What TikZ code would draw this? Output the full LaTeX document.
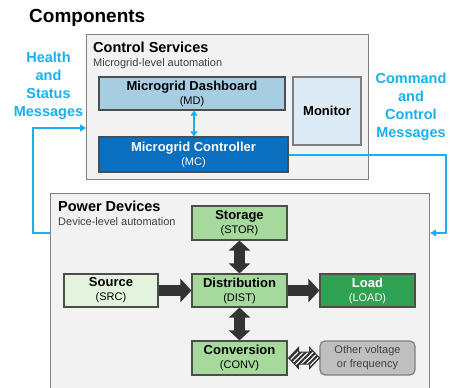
\documentclass[tikz,border=0pt]{standalone}
\usepackage{fontspec}
\setmainfont{Liberation Sans}
\usepackage{tikz}
\usetikzlibrary{arrows.meta,positioning,calc,patterns.meta}
\definecolor{cText}{HTML}{262626}
\definecolor{cSub}{HTML}{404040}
\definecolor{cMsg}{HTML}{18B0EE}
\definecolor{cPanel}{HTML}{F2F2F2}
\definecolor{cPanelEdge}{HTML}{7F7F7F}
\definecolor{cEdge}{HTML}{4D4D4D}
\definecolor{cDash}{HTML}{A7CDE3}
\definecolor{cCtrl}{HTML}{0A6FBF}
\definecolor{cMon}{HTML}{DCEBF6}
\definecolor{cDev}{HTML}{A6DA9C}
\definecolor{cSrc}{HTML}{E3F3DD}
\definecolor{cLoad}{HTML}{2EA152}
\definecolor{cOther}{HTML}{BFBFBF}
\definecolor{cFlow}{HTML}{333333}
\tikzset{
  panel/.style={draw=cPanelEdge, line width=1.2pt, fill=cPanel, anchor=north west, inner sep=0pt},
  ttl/.style={anchor=base west, inner sep=0pt, font=\fontsize{19}{22}\selectfont\bfseries, text=black},
  hdr/.style={anchor=base west, inner sep=0pt, font=\fontsize{14.5}{17}\selectfont\bfseries, text=black},
  sub/.style={anchor=base west, inner sep=0pt, font=\fontsize{11}{13}\selectfont, text=cSub},
  msgtxt/.style={anchor=north, inner sep=0pt, align=center, text=cMsg,
                 font=\fontsize{14.5}{18}\selectfont\bfseries},
  blk/.style={draw=cEdge, line width=1.2pt, inner sep=0pt, align=center, text=black,
              minimum width=95pt, minimum height=34pt, font=\fontsize{13}{14}\selectfont\bfseries},
  dashblk/.style={blk, fill=cDash},
  ctrlblk/.style={blk, fill=cCtrl, text=white},
  monblk/.style={blk, fill=cMon, draw=cPanelEdge},
  devblk/.style={blk, fill=cDev},
  srcblk/.style={blk, fill=cSrc},
  loadblk/.style={blk, fill=cLoad, text=white},
  otherblk/.style={blk, fill=cOther, draw=cPanelEdge, rounded corners=5pt,
                   font=\fontsize{11}{14}\selectfont, text=cSub},
  msg/.style={cMsg, line width=2pt, -{Triangle[length=6pt,width=7pt]}},
  msgdbl/.style={cMsg, line width=2pt, {Triangle[length=5pt,width=7pt]}-{Triangle[length=5pt,width=7pt]}},
  fatarr/.style={cFlow, line width=11pt, -{Triangle[length=11pt,width=23pt]}},
  fatdbl/.style={cFlow, line width=11pt, {Triangle[length=10pt,width=21pt]}-{Triangle[length=10pt,width=21pt]}},
  hatch/.style={draw=cFlow, line width=1pt, line join=miter, fill=white,
                postaction={pattern={Lines[angle=45,distance=3.6pt,line width=2.2pt]}, pattern color=cFlow}}
}
\newcommand{\abbr}[1]{{\fontsize{11}{14}\selectfont\mdseries(#1)}}

\begin{document}
\begin{tikzpicture}[x=1pt, y=-1pt]
\clip (0,0) rectangle (450,388);
\node[ttl] (comp) at (29,23) {Components};
% control layer
\node[panel, minimum width=282pt, minimum height=145pt] (ctrl) at (86,34) {};
\node[hdr] (ctrlttl) at (93,52) {Control Services};
\node[sub] (ctrlsub) at (93,66) {Microgrid-level automation};
\node[dashblk, minimum width=186pt, minimum height=33pt] (md) at (192,93.5)
  {Microgrid Dashboard\\\abbr{MD}};
\node[monblk, minimum width=68pt, minimum height=68pt] (mon) at (327,111) {Monitor};
\node[ctrlblk, minimum width=189pt, minimum height=35pt] (mc) at (193.5,154.5)
  {Microgrid Controller\\\abbr{MC}};
\draw[msgdbl] ([xshift=2pt]md.south) -- ([xshift=2pt]md.south |- mc.north);
% device layer
\node[panel, minimum width=379pt, minimum height=210pt] (pwr) at (50,193) {};
\node[hdr] (pwrttl) at (58,211) {Power Devices};
\node[sub] (pwrsub) at (58,225) {Device-level automation};
\node[devblk] (stor) at (239.5,223) {Storage\\\abbr{STOR}};
\node[devblk, minimum height=33pt] (dist) at (239.5,290.5) {Distribution\\\abbr{DIST}};
\node[srcblk, minimum width=94pt, minimum height=33pt] (src) at (111,290.5) {Source\\\abbr{SRC}};
\node[loadblk, minimum height=33pt] (load) at (367.5,290.5) {Load\\\abbr{LOAD}};
\node[devblk] (conv) at (239.5,358) {Conversion\\\abbr{CONV}};
\node[otherblk] (other) at (367.5,358) {Other voltage\\or frequency};
\draw[fatdbl] (stor) -- (dist);
\draw[fatdbl] (dist) -- (conv);
\draw[fatarr] (src) -- (dist);
\draw[fatarr] (dist) -- (load);
% striped two-way link, tip to tip across the gap
\begin{scope}[shift={(conv.east)}]
  \path[hatch] (1,0) -- (11,-10.5) -- (11,-6) -- (22,-6) -- (22,-10.5) -- (32,0)
    -- (22,10.5) -- (22,6) -- (11,6) -- (11,10.5) -- cycle;
\end{scope}
% message loop
\node[msgtxt] (health) at (48.5,51.6) {Health\\and\\Status\\Messages};
\node[msgtxt] (cmd) at (411,72.7) {Command\\and\\Control\\Messages};
\coordinate (pwrin) at ($(pwr.north east)+(0,40)$);
\coordinate (pwrout) at ($(pwr.north west)+(0,40)$);
\coordinate (ctrlin) at ($(ctrl.north west)+(0,94)$);
\draw[msg] (mc.east) -- ++(157,0) |- (pwrin);
\draw[msg] (pwrout) -- ++(-17,0) |- (ctrlin);
\end{tikzpicture}
\end{document}
